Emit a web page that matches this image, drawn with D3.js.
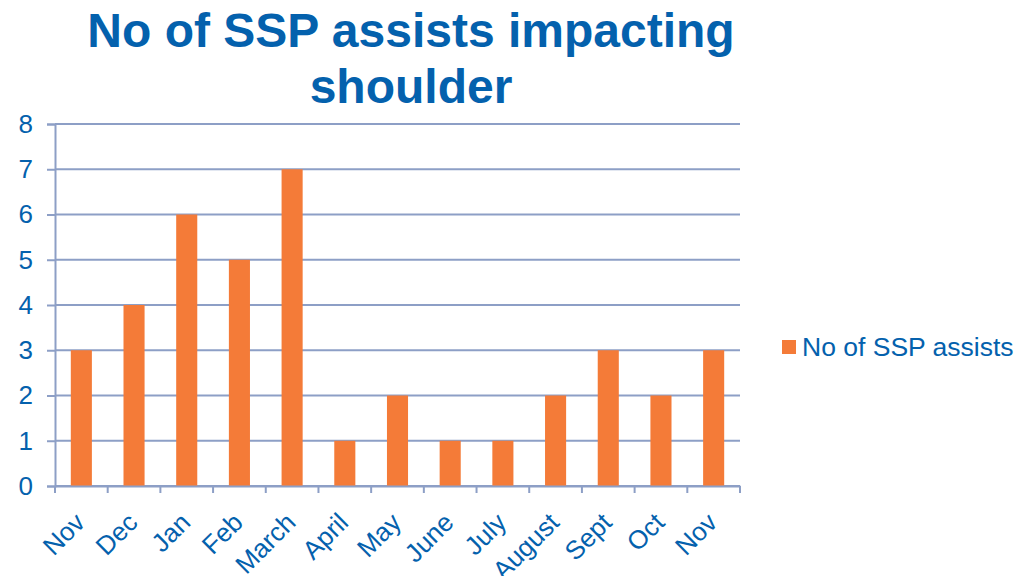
<!DOCTYPE html>
<html>
<head>
<script src="https://d3js.org/d3.v7.min.js"></script>
<style>
  body { margin: 0; background: #fff; font-family: "Liberation Sans", Arial, sans-serif; }
</style>
</head>
<body>
<svg id="chart" width="1019" height="576"></svg>
<script>
// data
var months = ["Nov", "Dec", "Jan", "Feb", "March", "April", "May", "June", "July", "August", "Sept", "Oct", "Nov "];
var assists = [3, 4, 6, 5, 7, 1, 2, 1, 1, 2, 3, 2, 3];
var yTicks = [0, 1, 2, 3, 4, 5, 6, 7, 8];
var seriesName = "No of SSP assists";

var blue = "#0461AD", orange = "#F47B38", gridCol = "#8D9FC6";
var svg = d3.select("#chart");
var plotL = 55, plotR = 740, plotT = 124, plotB = 486;

var x = d3.scaleBand().domain(months).range([plotL, plotR]).paddingInner(0).paddingOuter(0);
var y = d3.scaleLinear().domain([0, 8]).range([plotB, plotT]);

// title
svg.append("text").attr("x", 411).attr("y", 47).attr("text-anchor", "middle")
  .attr("fill", blue).attr("font-size", 48).attr("font-weight", "bold")
  .text("No of SSP assists impacting");
svg.append("text").attr("x", 411).attr("y", 103).attr("text-anchor", "middle")
  .attr("fill", blue).attr("font-size", 48).attr("font-weight", "bold")
  .text("shoulder");

// grid
svg.append("g").selectAll("line").data(yTicks).join("line")
  .attr("x1", plotL).attr("x2", plotR)
  .attr("y1", d => y(d)).attr("y2", d => y(d))
  .attr("stroke", gridCol).attr("stroke-width", 2);

// y axis
var yAxis = svg.append("g").attr("transform", "translate(" + plotL + ",0)")
  .call(d3.axisLeft(y).tickValues(yTicks).tickSize(8).tickPadding(14).tickFormat(d3.format("d")));
yAxis.select(".domain").attr("stroke", gridCol).attr("stroke-width", 2);
yAxis.selectAll(".tick line").attr("stroke", gridCol).attr("stroke-width", 2);
yAxis.selectAll(".tick text").attr("fill", blue).attr("font-size", 26)
  .attr("font-family", "Liberation Sans, Arial, sans-serif");

// bars
var bw = x.bandwidth() * 0.4;
svg.append("g").selectAll("rect").data(assists).join("rect")
  .attr("x", (d, i) => x(months[i]) + x.bandwidth() / 2 - bw / 2)
  .attr("y", d => y(d))
  .attr("width", bw)
  .attr("height", d => y(0) - y(d))
  .attr("fill", orange);

// x axis
var xAxis = svg.append("g").attr("transform", "translate(0," + plotB + ")")
  .call(d3.axisBottom(x).tickSize(0).tickFormat(d => d.trim()));
xAxis.select(".domain").attr("stroke", gridCol).attr("stroke-width", 2);
xAxis.selectAll(".tick text").attr("fill", blue).attr("font-size", 26)
  .attr("font-family", "Liberation Sans, Arial, sans-serif")
  .attr("text-anchor", "end").attr("dy", null)
  .attr("transform", "translate(3,36) rotate(-45)");
// band edge ticks
var edges = months.map(m => x(m)).concat([plotR]);
svg.append("g").selectAll("line").data(edges).join("line")
  .attr("x1", d => d).attr("x2", d => d)
  .attr("y1", plotB).attr("y2", plotB + 7)
  .attr("stroke", gridCol).attr("stroke-width", 2);

// legend
svg.append("rect").attr("x", 782).attr("y", 340).attr("width", 14).attr("height", 14).attr("fill", orange);
svg.append("text").attr("x", 802).attr("y", 356).attr("fill", blue).attr("font-size", 26.5)
  .text(seriesName);
</script>
</body>
</html>
